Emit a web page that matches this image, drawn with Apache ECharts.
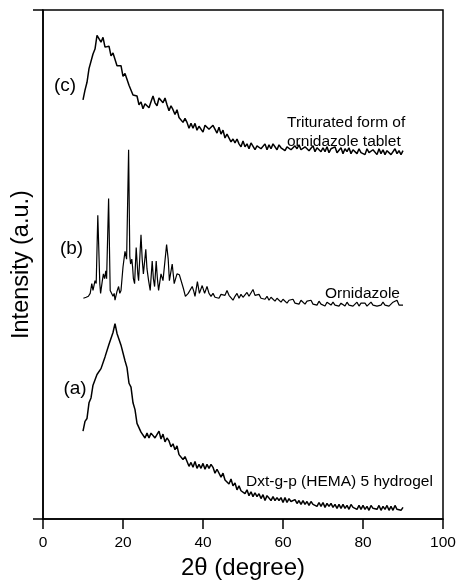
<!DOCTYPE html>
<html>
<head>
<meta charset="utf-8">
<script src="https://cdn.jsdelivr.net/npm/echarts@6/dist/echarts.min.js"></script>
<style>
html,body{margin:0;padding:0;background:#fff;}
#chart{width:459px;height:585px;}
</style>
</head>
<body>
<div id="chart"></div>
<script>
// 2θ sampling (degree) for traces (a) and (c)
var twoTheta = [
10,10.5,11,11.5,12,12.5,13,13.5,14,14.5,
15,15.5,16,16.5,17,17.5,18,18.5,19,19.5,
20,20.5,21,21.5,22,22.5,23,23.5,24,24.5,
25,25.5,26,26.5,27,27.5,28,28.5,29,29.5,
30,30.5,31,31.5,32,32.5,33,33.5,34,34.5,
35,35.5,36,36.5,37,37.5,38,38.5,39,39.5,
40,40.5,41,41.5,42,42.5,43,43.5,44,44.5,
45,45.5,46,46.5,47,47.5,48,48.5,49,49.5,
50,50.5,51,51.5,52,52.5,53,53.5,54,54.5,
55,55.5,56,56.5,57,57.5,58,58.5,59,59.5,
60,60.5,61,61.5,62,62.5,63,63.5,64,64.5,
65,65.5,66,66.5,67,67.5,68,68.5,69,69.5,
70,70.5,71,71.5,72,72.5,73,73.5,74,74.5,
75,75.5,76,76.5,77,77.5,78,78.5,79,79.5,
80,80.5,81,81.5,82,82.5,83,83.5,84,84.5,
85,85.5,86,86.5,87,87.5,88,88.5,89,89.5,
90];

// (c) Triturated form of ornidazole tablet (offset, a.u.)
var intensityC = [
429,439,447,461,462,476,481,495,497,488,
493,483,485,484,474,477,475,464,463,464,
453,456,454,444,445,434,435,433,424,427,
420,425,426,421,427,433,426,423,431,430,
426,431,424,418,423,419,414,419,411,413,
406,410,406,400,405,400,405,398,402,403,
396,403,405,399,398,403,401,395,401,394,
398,390,394,393,386,389,385,389,384,381,
387,381,384,379,385,383,378,382,384,379,
380,384,378,383,379,384,382,378,383,380,
382,377,381,383,378,377,382,379,383,378,
376,381,382,377,378,382,376,380,381,376,
380,376,381,375,379,377,381,375,377,380,
374,379,376,380,374,378,379,374,379,375,
377,373,379,375,373,378,377,373,379,374,
378,373,377,379,373,375,379,374,377,373,
377];

// (a) Dxt-g-p (HEMA) 5 hydrogel (a.u.)
var intensityA = [
90,100,103,119,124,137,138,148,146,154,
154,166,167,179,179,191,200,190,189,178,
176,162,155,139,135,119,112,98,98,89,
91,83,88,83,88,90,83,85,90,82,
87,79,83,80,74,77,71,75,66,68,
61,64,62,54,58,53,59,52,56,52,
57,51,56,52,56,53,47,51,50,43,
47,40,42,36,41,34,37,30,34,29,
31,26,30,24,28,23,27,23,26,21,
25,19,24,23,19,23,19,22,19,22,
17,22,17,21,18,16,20,16,19,15,
19,15,18,14,18,15,17,13,17,13,
17,12,16,13,16,12,15,11,15,11,
15,11,14,10,15,12,14,10,14,10,
14,10,13,9,14,11,13,10,14,9,
13,10,14,9,13,9,14,10,12,9,
12];

// (b) Ornidazole (offset, a.u.)
var thetaB = [
10.1,10.8,11.35,11.8,12.2,12.5,13.0,13.3,13.7,14.2,
14.4,14.8,15.1,15.4,15.7,15.9,16.4,16.8,17.2,17.5,
17.8,18.0,18.5,18.9,19.2,19.5,20.0,20.5,20.9,21.4,
21.7,21.9,22.2,22.4,22.6,22.9,23.3,23.7,23.9,24.5,
24.8,25.1,25.7,26.0,26.4,26.8,27.3,27.6,27.9,28.3,
28.6,28.9,29.5,30.0,30.9,31.3,31.6,32.3,32.8,33.5,
34.1,34.6,35.1,35.6,36.3,36.8,37.3,37.7,38.0,38.6,
39.1,39.8,40.4,41.0,41.5,
42.0,42.5,43.0,43.5,44.0,44.5,45.0,45.5,46.0,46.5,
47.0,47.5,48.0,48.5,49.0,49.5,50.0,50.5,51.0,51.5,
52.0,52.5,53.0,53.5,54.0,54.5,55.0,55.5,56.0,56.5,
57.0,57.5,58.0,58.5,59.0,59.5,60.0,60.5,61.0,61.5,
62.0,62.5,63.0,63.5,64.0,64.5,65.0,65.5,66.0,66.5,
67.0,67.5,68.0,68.5,69.0,69.5,70.0,70.5,71.0,71.5,
72.0,72.5,73.0,73.5,74.0,74.5,75.0,75.5,76.0,76.5,
77.0,77.5,78.0,78.5,79.0,79.5,80.0,80.5,81.0,81.5,
82.0,82.5,83.0,83.5,84.0,84.5,85.0,85.5,86.0,86.5,
87.0,87.5,88.0,88.5,89.0,89.5,90.0];
var intensityB = [
226,227,228,231,241,234,244,241,311,241,
231,243,251,246,254,246,328,234,235,228,
231,224,233,238,231,234,258,274,266,378,
269,261,266,258,246,241,278,251,244,291,
266,251,276,256,244,234,264,246,238,264,
246,234,251,244,281,266,244,261,241,251,
250,251,236,228,231,231,238,233,228,243,
231,239,231,238,231,
228,231,227,229,226,230,232,229,234,229,
231,224,228,231,226,230,227,229,232,228,
230,235,229,227,230,226,228,225,228,224,
227,225,223,226,224,222,225,224,221,224,
222,225,221,223,220,224,222,220,223,221,
224,220,222,219,223,220,221,218,222,220,
219,222,219,221,218,221,220,218,222,219,
221,218,220,222,218,221,219,221,218,220,
222,219,221,218,220,219,222,219,221,218,
220,222,221,224,219,221,219];

var xTicks = [0, 20, 40, 60, 80, 100];

function zip(xs, ys) { return xs.map(function (x, i) { return [x, ys[i]]; }); }

var FONT = '"Liberation Sans", Arial, Helvetica, sans-serif';
var chart = echarts.init(document.getElementById('chart'), null, {renderer: 'canvas'});
var lineCommon = {type: 'line', showSymbol: false, symbol: 'none', animation: false, smooth: false,
  lineStyle: {color: '#000', width: 1.5}, itemStyle: {color: '#000'}};

chart.setOption({
  animation: false,
  backgroundColor: '#fff',
  grid: {left: 43, right: 16, top: 10, bottom: 54, show: true, borderColor: '#000', borderWidth: 1.5},
  xAxis: {
    type: 'value', min: xTicks[0], max: xTicks[xTicks.length - 1], interval: 20,
    name: '2θ (degree)', nameLocation: 'middle', nameGap: 34,
    nameTextStyle: {fontSize: 24, color: '#000', fontFamily: FONT},
    axisLine: {show: true, lineStyle: {color: '#000', width: 1.5}},
    axisTick: {show: true, inside: false, length: 10, lineStyle: {color: '#000', width: 1.5}},
    axisLabel: {fontSize: 15.5, color: '#000', fontFamily: FONT, margin: 16},
    splitLine: {show: false}
  },
  yAxis: {
    type: 'value', min: 0, max: 521, interval: 521,
    name: 'Intensity (a.u.)', nameLocation: 'middle', nameGap: 9,
    nameTextStyle: {fontSize: 23.5, color: '#000', fontFamily: FONT},
    axisLine: {show: true, lineStyle: {color: '#000', width: 1.5}},
    axisTick: {show: true, inside: false, length: 10, lineStyle: {color: '#000', width: 1.5}},
    axisLabel: {show: false},
    splitLine: {show: false}
  },
  series: [
    Object.assign({}, lineCommon, {name: '(a)', data: zip(twoTheta, intensityA)}),
    Object.assign({}, lineCommon, {name: '(b)', data: zip(thetaB, intensityB), lineStyle: {color: '#000', width: 1.2}}),
    Object.assign({}, lineCommon, {name: '(c)', data: zip(twoTheta, intensityC)})
  ],
  graphic: [
    {type: 'text', x: 65, y: 86, style: {text: '(c)', fontSize: 19, fontFamily: FONT, fill: '#000', align: 'center', verticalAlign: 'middle', textAlign: 'center', textVerticalAlign: 'middle'}},
    {type: 'text', x: 71.5, y: 249, style: {text: '(b)', fontSize: 19, fontFamily: FONT, fill: '#000', align: 'center', verticalAlign: 'middle', textAlign: 'center', textVerticalAlign: 'middle'}},
    {type: 'text', x: 75, y: 389, style: {text: '(a)', fontSize: 19, fontFamily: FONT, fill: '#000', align: 'center', verticalAlign: 'middle', textAlign: 'center', textVerticalAlign: 'middle'}},
    {type: 'text', x: 287, y: 123, style: {text: 'Triturated form of', fontSize: 15.5, fontFamily: FONT, fill: '#000', align: 'left', verticalAlign: 'middle', textAlign: 'left', textVerticalAlign: 'middle'}},
    {type: 'text', x: 287, y: 142, style: {text: 'ornidazole tablet', fontSize: 15.5, fontFamily: FONT, fill: '#000', align: 'left', verticalAlign: 'middle', textAlign: 'left', textVerticalAlign: 'middle'}},
    {type: 'text', x: 325, y: 294, style: {text: 'Ornidazole', fontSize: 15.5, fontFamily: FONT, fill: '#000', align: 'left', verticalAlign: 'middle', textAlign: 'left', textVerticalAlign: 'middle'}},
    {type: 'text', x: 246, y: 482, style: {text: 'Dxt-g-p (HEMA) 5 hydrogel', fontSize: 15.5, fontFamily: FONT, fill: '#000', align: 'left', verticalAlign: 'middle', textAlign: 'left', textVerticalAlign: 'middle'}}
  ]
});
</script>
</body>
</html>
